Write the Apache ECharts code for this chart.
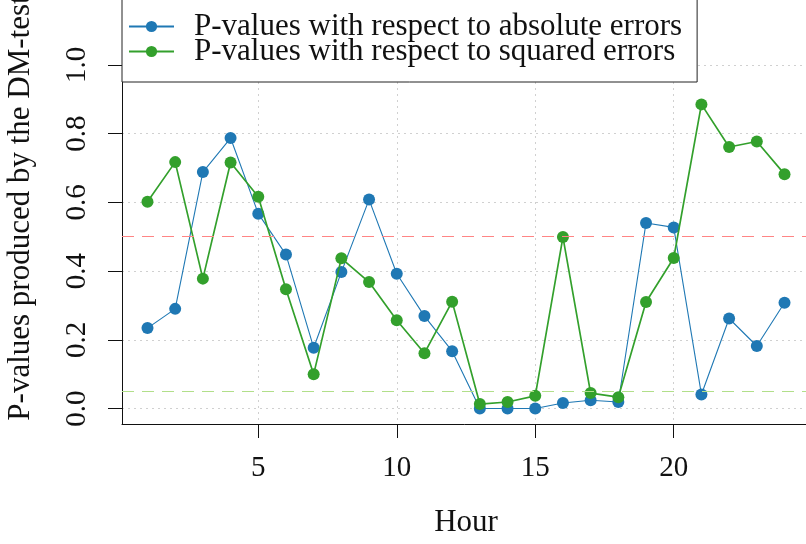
<!DOCTYPE html>
<html>
<head>
<meta charset="utf-8">
<script src="https://cdn.jsdelivr.net/npm/echarts@6/dist/echarts.min.js"></script>
<style>
html,body{margin:0;padding:0;background:#fff;}
#chart{width:806px;height:544px;}
</style>
</head>
<body>
<div id="chart"></div>
<script>
const hours = [1,2,3,4,5,6,7,8,9,10,11,12,13,14,15,16,17,18,19,20,21,22,23,24];
const absErrors = [0.234,0.290,0.688,0.787,0.567,0.448,0.177,0.397,0.608,0.392,0.269,0.167,0.000,0.000,0.000,0.016,0.024,0.019,0.540,0.527,0.041,0.262,0.182,0.308];
const sqErrors = [0.602,0.717,0.378,0.716,0.616,0.347,0.100,0.437,0.368,0.257,0.161,0.311,0.013,0.019,0.037,0.499,0.045,0.033,0.310,0.438,0.885,0.761,0.777,0.682];
const seriesNames = ['P-values with respect to absolute errors','P-values with respect to squared errors'];
const xTicks = [5,10,15,20];
const yTicks = [0,0.2,0.4,0.6,0.8,1.0];
const redLevel = 0.5;
const greenLevel = 0.05;

const FONT = 'Liberation Serif';
const chart = echarts.init(document.getElementById('chart'), null, {renderer:'canvas'});
const gridStyle = {color:'#d0d0d0', type:[2,4], width:1};
chart.setOption({
  animation:false,
  backgroundColor:'#ffffff',
  textStyle:{fontFamily:FONT},
  grid:{left:122, right:-4, top:-8, bottom:120, containLabel:false, outerBoundsMode:'none'},
  legend:{
    left:122, top:-9, orient:'vertical',
    padding:[20,15,15,6], itemGap:-6, itemWidth:45, itemHeight:14,
    backgroundColor:'#ffffff', borderColor:'#222', borderWidth:1, borderRadius:0,
    textStyle:{fontFamily:FONT, fontSize:31, color:'#111', padding:[0,0,0,15]},
    data:seriesNames
  },
  xAxis:{
    type:'value', min:0.08, max:24.92,
    name:'Hour', nameLocation:'middle', nameGap:83,
    nameTextStyle:{fontFamily:FONT, fontSize:31, color:'#111'},
    axisLine:{show:true, onZero:false, lineStyle:{color:'#111', width:1}},
    axisTick:{show:true, length:14, customValues:xTicks, lineStyle:{color:'#111'}},
    axisLabel:{customValues:xTicks, fontFamily:FONT, fontSize:29, color:'#111', margin:30},
    splitLine:{show:true, lineStyle:gridStyle}
  },
  yAxis:{
    type:'value', min:-0.045, max:1.212,
    name:'P-values produced by the DM-test', nameLocation:'middle', nameGap:86, nameRotate:90,
    nameTextStyle:{fontFamily:FONT, fontSize:31, color:'#111'},
    axisLine:{show:true, onZero:false, lineStyle:{color:'#111', width:1}},
    axisTick:{show:true, length:14, customValues:yTicks, lineStyle:{color:'#111'}},
    axisLabel:{customValues:yTicks, rotate:90, fontFamily:FONT, fontSize:29, color:'#111', margin:30,
      formatter:v=>v.toFixed(1)},
    splitLine:{show:true, lineStyle:gridStyle}
  },
  series:[
    {
      name:seriesNames[0], type:'line',
      data:hours.map((h,i)=>[h,absErrors[i]]),
      symbol:'circle', symbolSize:12, color:'#1f78b4',
      lineStyle:{width:1.1, color:'#1f78b4'}, itemStyle:{color:'#1f78b4'},
      z:3,
      markLine:{
        silent:true, symbol:['none','none'], label:{show:false}, animation:false,
        lineStyle:{type:[12,8], width:1, opacity:1},
        data:[
          {yAxis:redLevel, lineStyle:{color:'#ff8585', type:[12,8], width:1, opacity:1}},
          {yAxis:greenLevel, lineStyle:{color:'#b2df8a', type:[12,8], width:1, opacity:1}}
        ]
      }
    },
    {
      name:seriesNames[1], type:'line',
      data:hours.map((h,i)=>[h,sqErrors[i]]),
      symbol:'circle', symbolSize:12, color:'#33a02c',
      lineStyle:{width:1.7, color:'#33a02c'}, itemStyle:{color:'#33a02c'},
      z:4
    }
  ]
});
</script>
</body>
</html>
